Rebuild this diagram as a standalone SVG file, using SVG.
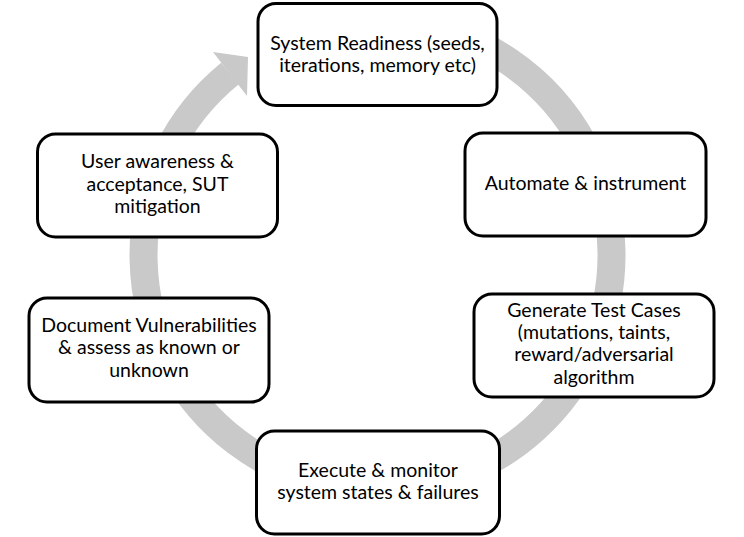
<svg xmlns="http://www.w3.org/2000/svg" width="744" height="537" viewBox="0 0 744 537">
<style>
.box{fill:#fff;stroke:#000;stroke-width:3}
.lbl{font-family:Lato,"Liberation Sans",sans-serif;font-size:19.5px;fill:#000;text-anchor:middle}
.ring{fill:none;stroke:#c9c9c9;stroke-width:28}
.head{fill:#c9c9c9}
</style>
<rect width="744" height="537" fill="#fff"/>
<g id="connectors">
<path class="ring" d="M417.6,24.6 A234,234 0 1 1 230,73.5"/>
<polygon class="head" points="213,52 248,57 247,96"/>
</g>
<g id="node-readiness">
<rect class="box" x="258" y="3.5" width="239" height="102" rx="18"/>
<text class="lbl" x="377.5" y="49.5">System Readiness (seeds,</text>
<text class="lbl" x="377.5" y="72">iterations, memory etc)</text>
</g>
<g id="node-automate">
<rect class="box" x="465" y="133" width="241" height="103" rx="18"/>
<text class="lbl" x="585.5" y="190">Automate &amp; instrument</text>
</g>
<g id="node-generate">
<rect class="box" x="474" y="294" width="240" height="103" rx="18"/>
<text class="lbl" x="594" y="316.7">Generate Test Cases</text>
<text class="lbl" x="594" y="339">(mutations, taints,</text>
<text class="lbl" x="594" y="361.3">reward/adversarial</text>
<text class="lbl" x="594" y="383.6">algorithm</text>
</g>
<g id="node-execute">
<rect class="box" x="256.5" y="431" width="243" height="103" rx="18"/>
<text class="lbl" x="378" y="476.7">Execute &amp; monitor</text>
<text class="lbl" x="378" y="499">system states &amp; failures</text>
</g>
<g id="node-document">
<rect class="box" x="29" y="298" width="240" height="104" rx="18"/>
<text class="lbl" x="149" y="331.7">Document Vulnerabilities</text>
<text class="lbl" x="149" y="354.3">&amp; assess as known or</text>
<text class="lbl" x="149" y="376.7">unknown</text>
</g>
<g id="node-user">
<rect class="box" x="37.5" y="134" width="240" height="103" rx="18"/>
<text class="lbl" x="157.5" y="168.3">User awareness &amp;</text>
<text class="lbl" x="157.5" y="190.8">acceptance, SUT</text>
<text class="lbl" x="157.5" y="213.3">mitigation</text>
</g>
</svg>
